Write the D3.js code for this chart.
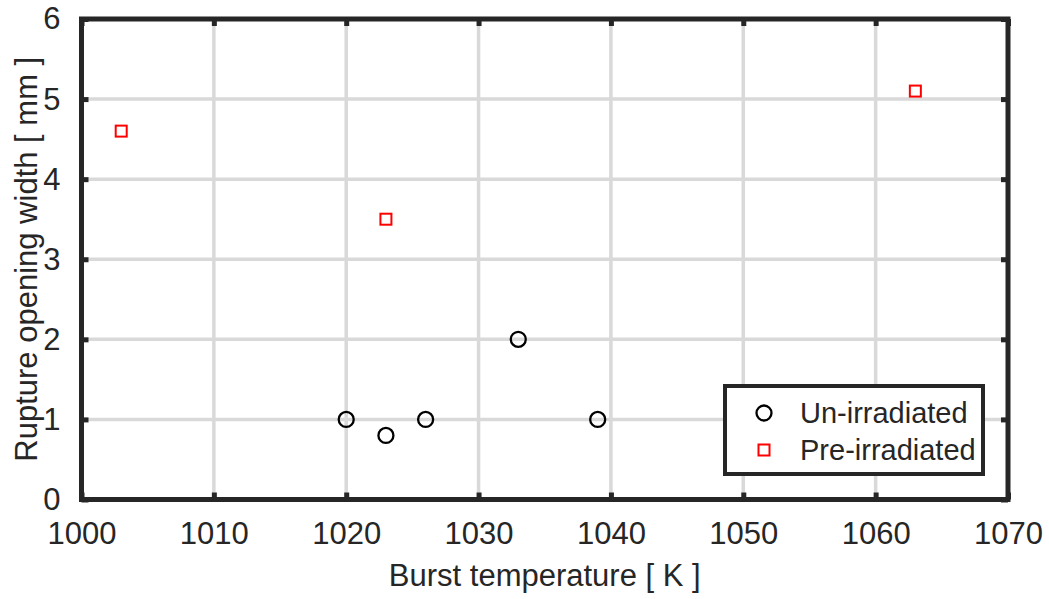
<!DOCTYPE html>
<html>
<head>
<meta charset="utf-8">
<style>
body { margin: 0; background: #fff; }
text { font-family: "Liberation Sans", Arial, sans-serif; fill: #262626; }
</style>
<script src="https://cdn.jsdelivr.net/npm/d3@7"></script>
</head>
<body>
<div id="chart"></div>
<script>

// data
var unIrrTemp = [1020, 1023, 1026, 1033, 1039];
var unIrrWidth = [1.0, 0.8, 1.0, 2.0, 1.0];
var preIrrTemp = [1003, 1023, 1063];
var preIrrWidth = [4.6, 3.5, 5.1];
var xTicks = [1000, 1010, 1020, 1030, 1040, 1050, 1060, 1070];
var yTicks = [0, 1, 2, 3, 4, 5, 6];
var seriesNames = ["Un-irradiated", "Pre-irradiated"];

var W = 1049, H = 599;
var margin = {left: 81.5, right: 41, top: 19, bottom: 99.5};

var svg = d3.select("#chart").append("svg")
    .attr("width", W)
    .attr("height", H);

var x = d3.scaleLinear().domain([1000, 1070]).range([margin.left, W - margin.right]);
var y = d3.scaleLinear().domain([0, 6]).range([H - margin.bottom, margin.top]);

var grid = svg.append("g");
grid.selectAll("line.gx")
    .data(xTicks.slice(1, -1))
    .enter().append("line")
    .attr("x1", d => x(d)).attr("x2", d => x(d))
    .attr("y1", y(0)).attr("y2", y(6))
    .attr("stroke", "#d9d9d9").attr("stroke-width", 3.5);
grid.selectAll("line.gy")
    .data(yTicks.slice(1, -1))
    .enter().append("line")
    .attr("y1", d => y(d)).attr("y2", d => y(d))
    .attr("x1", x(1000)).attr("x2", x(1070))
    .attr("stroke", "#d9d9d9").attr("stroke-width", 3.5);

// axes, ticks pointing inwards
var xAxisB = d3.axisBottom(x).tickValues(xTicks).tickSize(-7).tickPadding(22).tickFormat(d3.format("d"));
var xAxisT = d3.axisTop(x).tickValues(xTicks).tickSize(-7).tickFormat("");
var yAxisL = d3.axisLeft(y).tickValues(yTicks).tickSize(-7).tickPadding(21).tickFormat(d3.format("d"));
var yAxisR = d3.axisRight(y).tickValues(yTicks).tickSize(-7).tickFormat("");

function style(g) {
  g.selectAll(".domain").remove();
  g.selectAll(".tick line").attr("stroke", "#262626").attr("stroke-width", 5);
  g.selectAll(".tick text").style("font-size", "31px").attr("fill", "#262626");
}

svg.append("g").attr("transform", "translate(0," + y(0) + ")").call(xAxisB).call(style);
svg.append("g").attr("transform", "translate(0," + y(6) + ")").call(xAxisT).call(style);
svg.append("g").attr("transform", "translate(" + x(1000) + ",0)").call(yAxisL).call(style);
svg.append("g").attr("transform", "translate(" + x(1070) + ",0)").call(yAxisR).call(style);

svg.append("rect")
    .attr("x", x(1000)).attr("y", y(6))
    .attr("width", x(1070) - x(1000)).attr("height", y(0) - y(6))
    .attr("fill", "none").attr("stroke", "#262626").attr("stroke-width", 5);

// markers
svg.selectAll("circle.un")
    .data(unIrrTemp)
    .enter().append("circle")
    .attr("cx", d => x(d))
    .attr("cy", (d, i) => y(unIrrWidth[i]))
    .attr("r", 7.5)
    .attr("fill", "none").attr("stroke", "#000").attr("stroke-width", 2.3);

var sq = 11;
svg.selectAll("rect.pre")
    .data(preIrrTemp)
    .enter().append("rect")
    .attr("x", d => x(d) - sq / 2)
    .attr("y", (d, i) => y(preIrrWidth[i]) - sq / 2)
    .attr("width", sq).attr("height", sq)
    .attr("fill", "none").attr("stroke", "#ff0000").attr("stroke-width", 2);

// axis labels
svg.append("text")
    .attr("x", (x(1000) + x(1070)) / 2)
    .attr("y", 586)
    .attr("text-anchor", "middle")
    .style("font-size", "31px")
    .text("Burst temperature [ K ]");

svg.append("text")
    .attr("transform", "translate(37," + (y(0) + y(6)) / 2 + ") rotate(-90)")
    .attr("text-anchor", "middle")
    .style("font-size", "31px")
    .text("Rupture opening width [ mm ]");

// legend
var leg = svg.append("g").attr("transform", "translate(725,386)");
leg.append("rect")
    .attr("width", 258).attr("height", 88)
    .attr("fill", "#fff").attr("stroke", "#262626").attr("stroke-width", 4);
leg.append("circle")
    .attr("cx", 39).attr("cy", 27).attr("r", 7.5)
    .attr("fill", "none").attr("stroke", "#000").attr("stroke-width", 2.3);
leg.append("rect")
    .attr("x", 39 - sq / 2).attr("y", 64 - sq / 2).attr("width", sq).attr("height", sq)
    .attr("fill", "none").attr("stroke", "#ff0000").attr("stroke-width", 2);
leg.selectAll("text.lab")
    .data(seriesNames)
    .enter().append("text")
    .attr("x", 75)
    .attr("y", (d, i) => 27 + i * 37)
    .attr("dy", "0.35em")
    .style("font-size", "29px")
    .text(d => d);

</script>
</body>
</html>
